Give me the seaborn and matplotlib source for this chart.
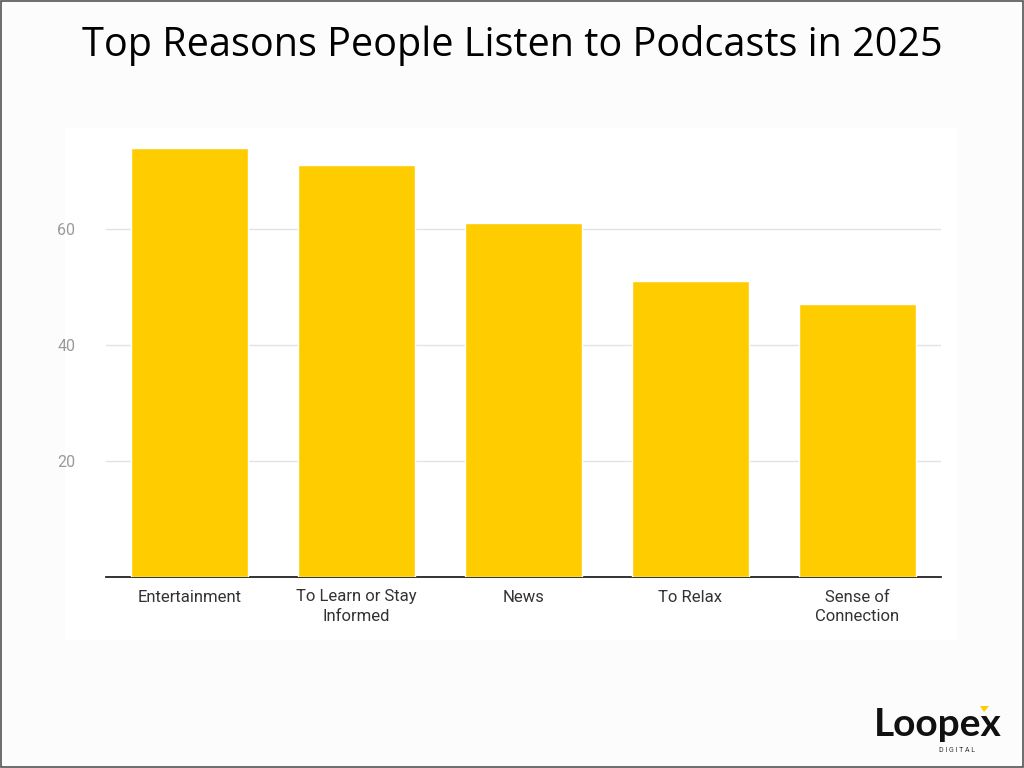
import matplotlib
matplotlib.use('Agg')
import matplotlib.pyplot as plt
import seaborn as sns
import pandas as pd
from matplotlib.patches import Rectangle, Polygon

reasons = ['Entertainment', 'To Learn or Stay\nInformed', 'News', 'To Relax', 'Sense of\nConnection']
percent = [74, 71, 61, 51, 47]
y_ticks = [20, 40, 60]

df = pd.DataFrame({'reason': reasons, 'percent': percent})

sns.set_style('white')
plt.rcParams['font.family'] = ['Roboto', 'DejaVu Sans']

fig = plt.figure(figsize=(10.24, 7.68), dpi=100, facecolor='#fcfcfc')

# white panel behind the chart and the outer frame
fig.patches.append(Rectangle((65 / 1024, 1 - 640 / 768), 892 / 1024, 512 / 768,
                             transform=fig.transFigure, facecolor='white',
                             edgecolor='none', zorder=-2))
fig.patches.append(Rectangle((0.001, 0.001), 0.998, 0.998, transform=fig.transFigure,
                             facecolor='none', edgecolor='#555555', linewidth=1.2, zorder=5))

ax = fig.add_axes([106 / 1024, 1 - 577 / 768, 835 / 1024, 441 / 768])
ax.set_facecolor('none')
sns.barplot(data=df, x='reason', y='percent', color='#FFCC00', width=0.7,
            saturation=1, ax=ax, zorder=3)

ax.set_xlim(-0.5, 4.5)
ax.set_ylim(0, 76)
ax.set_yticks(y_ticks)
ax.yaxis.grid(True, color='#e3e3e3', linewidth=1, zorder=0)
ax.set_axisbelow(True)
ax.set_xlabel('')
ax.set_ylabel('')
ax.tick_params(axis='y', colors='#9a9a9a', labelsize=11.5, length=0, pad=22)
ax.tick_params(axis='x', colors='#333333', labelsize=12, length=0, pad=9)
for lbl in ax.get_xticklabels():
    lbl.set_linespacing(1.35)
for s in ['top', 'right', 'left']:
    ax.spines[s].set_visible(False)
ax.spines['bottom'].set_color('#222222')
ax.spines['bottom'].set_linewidth(1.3)

fig.text(0.50, 1 - 46 / 768, 'Top Reasons People Listen to Podcasts in 2025',
         ha='center', va='center', fontsize=28.5, color='#000000',
         family=['Open Sans', 'DejaVu Sans'])

# logo
fig.text(0.853, 1 - 736 / 768, 'Loopex', ha='left', va='baseline', fontsize=28,
         fontweight='bold', color='#111111', family=['Lato', 'DejaVu Sans'])
fig.text(0.935, 1 - 750 / 768, 'D I G I T A L', ha='center', va='center', fontsize=5,
         color='#333333')
fig.patches.append(Polygon([(980 / 1024, 1 - 706 / 768), (989 / 1024, 1 - 706 / 768),
                            (984 / 1024, 1 - 712 / 768)], closed=True,
                           transform=fig.transFigure, facecolor='#FFCC00',
                           edgecolor='none', zorder=6))

fig.savefig('out.png', dpi=100, facecolor=fig.get_facecolor())
